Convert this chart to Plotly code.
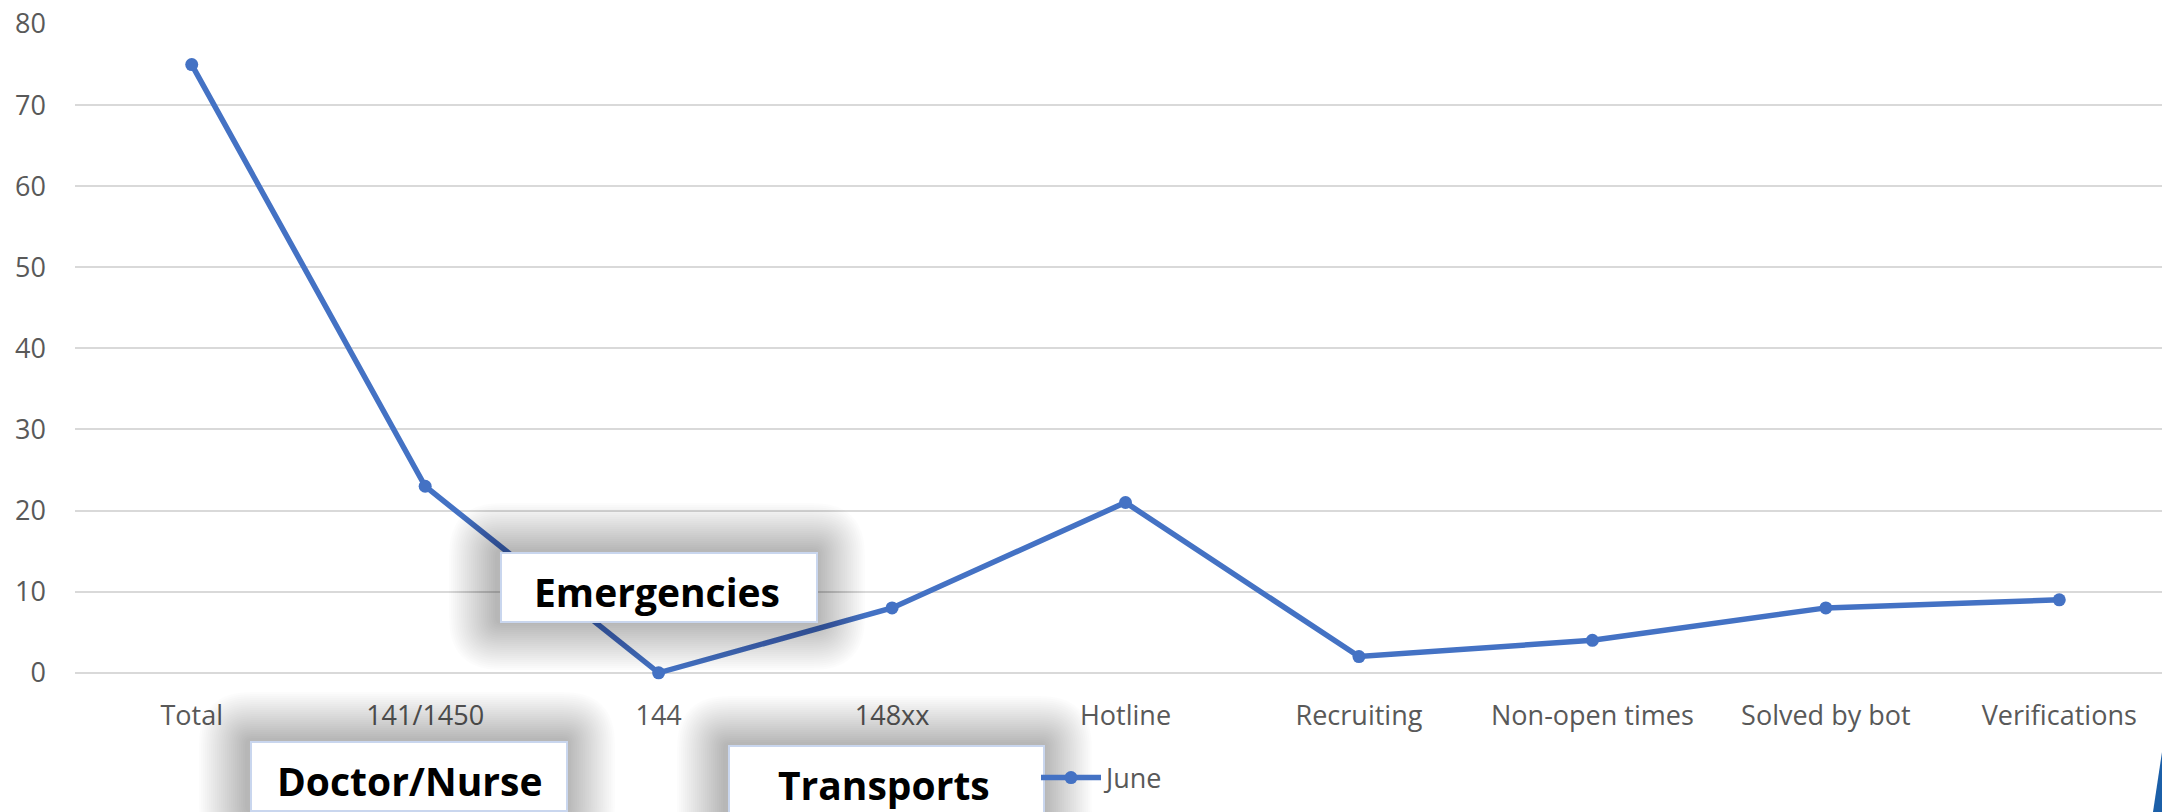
import plotly.graph_objects as go

# Data
categories = ["Total", "141/1450", "144", "148xx", "Hotline", "Recruiting",
              "Non-open times", "Solved by bot", "Verifications"]
june = [75, 23, 0, 8, 21, 2, 4, 8, 9]
y_ticks = [0, 10, 20, 30, 40, 50, 60, 70, 80]
callouts = ["Emergencies", "Doctor/Nurse", "Transports"]
series_name = "June"

# Canvas geometry (pixels)
W, H = 2162, 812
M_L, M_R, M_T, M_B = 75, 0, 24, 123
PW = W - M_L - M_R
PH = H - M_T - M_B

LINE_BLUE = "#4472C4"
TICK_GRAY = "#595959"
GRID_GRAY = "#D9D9D9"
FONT = "Open Sans"


def px_x(px):
    return (px - M_L) / PW


def px_y(py):
    return (H - M_B - py) / PH


def rounded_rect_path(x0, y0, x1, y1, r):
    """Rounded rectangle in pixel coordinates, emitted as a paper-space path."""
    pts = [
        ("M", [(x0 + r, y0)]),
        ("L", [(x1 - r, y0)]),
        ("Q", [(x1, y0), (x1, y0 + r)]),
        ("L", [(x1, y1 - r)]),
        ("Q", [(x1, y1), (x1 - r, y1)]),
        ("L", [(x0 + r, y1)]),
        ("Q", [(x0, y1), (x0, y1 - r)]),
        ("L", [(x0, y0 + r)]),
        ("Q", [(x0, y0), (x0 + r, y0)]),
    ]
    out = []
    for cmd, coords in pts:
        out.append(cmd + " ".join(f"{px_x(a):.6f},{px_y(b):.6f}" for a, b in coords))
    return " ".join(out) + " Z"


fig = go.Figure()

fig.add_trace(go.Scatter(
    x=categories, y=june, name=series_name, mode="lines+markers",
    line=dict(color=LINE_BLUE, width=5.5),
    marker=dict(color=LINE_BLUE, size=13),
    cliponaxis=False,
))

shapes = []
annotations = []

# Callout boxes with soft outer shadows (pixel boxes: x0, y0, x1, y1)
boxes = [
    (501, 553, 817, 622),
    (251, 742, 567, 811),
    (729, 746, 1044, 815),
]
text_centers = [(657, 591), (409, 780), (884, 784)]

STEPS = 24
for (x0, y0, x1, y1) in boxes:
    for i in range(STEPS, 0, -1):
        pad = i * 2.0
        shapes.append(dict(
            type="path", xref="paper", yref="paper", layer="above",
            path=rounded_rect_path(x0 - pad - 4, y0 - pad - 2, x1 + pad, y1 + pad,
                                   pad + 4),
            fillcolor="rgba(0,0,0,0.0115)", line=dict(width=0),
        ))
for (x0, y0, x1, y1) in boxes:
    shapes.append(dict(
        type="rect", xref="paper", yref="paper", layer="above",
        x0=px_x(x0), x1=px_x(x1), y0=px_y(y1), y1=px_y(y0),
        fillcolor="white", line=dict(color="#C9D6EE", width=2),
    ))

for label, (cx, cy) in zip(callouts, text_centers):
    annotations.append(dict(
        text=f"<b>{label}</b>", xref="paper", yref="paper",
        x=px_x(cx), y=px_y(cy), xanchor="center", yanchor="middle",
        showarrow=False, font=dict(family=FONT, size=39, color="black"),
    ))

# Blue slide accent in the lower-right corner
shapes.append(dict(
    type="path", xref="paper", yref="paper", layer="above",
    path=(f"M{px_x(2162):.6f},{px_y(752):.6f} L{px_x(2153):.6f},{px_y(812):.6f} "
          f"L{px_x(2162):.6f},{px_y(812):.6f} Z"),
    fillcolor="#1B5FA8", line=dict(width=0),
))

fig.update_layout(
    width=W, height=H,
    margin=dict(l=M_L, r=M_R, t=M_T, b=M_B, pad=0),
    paper_bgcolor="white", plot_bgcolor="white",
    font=dict(family=FONT, color=TICK_GRAY, size=27),
    showlegend=True,
    legend=dict(
        orientation="h", x=px_x(1036), y=px_y(778), xanchor="left", yanchor="middle",
        font=dict(family=FONT, size=27, color=TICK_GRAY),
        bgcolor="rgba(0,0,0,0)", itemwidth=60,
    ),
    xaxis=dict(
        type="category", categoryorder="array", categoryarray=categories,
        range=[-0.5, 8.44], showgrid=False, showline=False, zeroline=False,
        ticks="", tickfont=dict(family=FONT, size=27, color=TICK_GRAY),
        ticklabelstandoff=8,
    ),
    yaxis=dict(
        range=[-2, 80], tickvals=y_ticks, showgrid=True, gridcolor=GRID_GRAY,
        gridwidth=2, zeroline=False, showline=False, ticks="",
        tickfont=dict(family=FONT, size=27, color=TICK_GRAY),
        ticklabelstandoff=28,
    ),
    shapes=shapes,
    annotations=annotations,
)

fig.write_html("out.html")
